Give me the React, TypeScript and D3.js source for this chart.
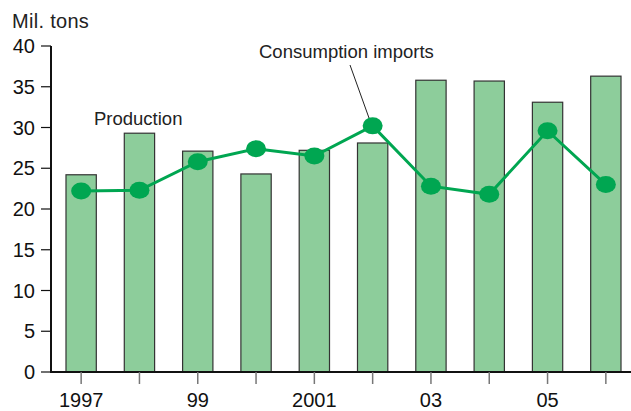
import React from "react";
import * as d3 from "d3";

const years = ["1997", "1998", "1999", "2000", "2001", "2002", "2003", "2004", "2005", "2006"];
const xTickLabels = ["1997", "", "99", "", "2001", "", "03", "", "05", ""];
const production = [24.2, 29.3, 27.1, 24.3, 27.2, 28.1, 35.8, 35.7, 33.1, 36.3];
const imports = [22.2, 22.3, 25.8, 27.4, 26.5, 30.2, 22.8, 21.8, 29.6, 23.0];
const yTicks = [0, 5, 10, 15, 20, 25, 30, 35, 40];

const W = 631;
const H = 411;
const FONT = "'Liberation Sans', Arial, Helvetica, sans-serif";

export default function App() {
  const x = d3.scaleBand<string>().domain(years).range([52, 635]).paddingInner(0.48).paddingOuter(0.24);
  const y = d3.scaleLinear().domain([0, 40]).range([372, 46]);
  const cx = (i: number) => (x(years[i]) as number) + x.bandwidth() / 2;
  const line = d3
    .line<number>()
    .x((_, i) => cx(i))
    .y((d) => y(d));

  return (
    <svg
      width={W}
      height={H}
      style={{ position: "absolute", left: 0, top: 0, background: "#fff" }}
      fontFamily={FONT}
    >
      <text x={12} y={27.5} fontSize={20} letterSpacing={0.3} fill="#222">Mil. tons</text>
      {/* bars */}
      {production.map((v, i) => (
        <rect
          key={i}
          x={x(years[i])}
          y={y(v)}
          width={x.bandwidth()}
          height={y(0) - y(v)}
          fill="#8dcd9b"
          stroke="#333"
          strokeWidth={1.2}
        />
      ))}
      {/* y axis */}
      <line x1={51} x2={51} y1={y(40)} y2={y(0)} stroke="#111" strokeWidth={2} />
      {yTicks.map((t) => (
        <g key={t}>
          <line x1={41} x2={51} y1={y(t)} y2={y(t)} stroke="#111" strokeWidth={1.2} />
          <text x={35} y={y(t)} dy="0.36em" textAnchor="end" fontSize={20} fill="#111">
            {t}
          </text>
        </g>
      ))}
      {/* x axis */}
      <line x1={50} x2={W} y1={y(0)} y2={y(0)} stroke="#111" strokeWidth={2} />
      {years.map((yr, i) => (
        <g key={yr}>
          <line x1={cx(i)} x2={cx(i)} y1={y(0)} y2={y(0) + 12} stroke="#777" strokeWidth={1.5} />
          {xTickLabels[i] && (
            <text x={cx(i)} y={407} textAnchor="middle" fontSize={20} fill="#111">
              {xTickLabels[i]}
            </text>
          )}
        </g>
      ))}
      {/* line */}
      <path d={line(imports) || ""} fill="none" stroke="#00a651" strokeWidth={3} />
      {imports.map((v, i) => (
        <ellipse key={i} cx={cx(i)} cy={y(v)} rx={10} ry={8.5} fill="#00a651" />
      ))}
      {/* annotations */}
      <text x={94} y={125} fontSize={18.5} fill="#222">Production</text>
      <text x={259} y={57.5} fontSize={18.5} fill="#222">Consumption imports</text>
      <line x1={350} y1={65} x2={369} y2={118} stroke="#222" strokeWidth={1} />
    </svg>
  );
}
